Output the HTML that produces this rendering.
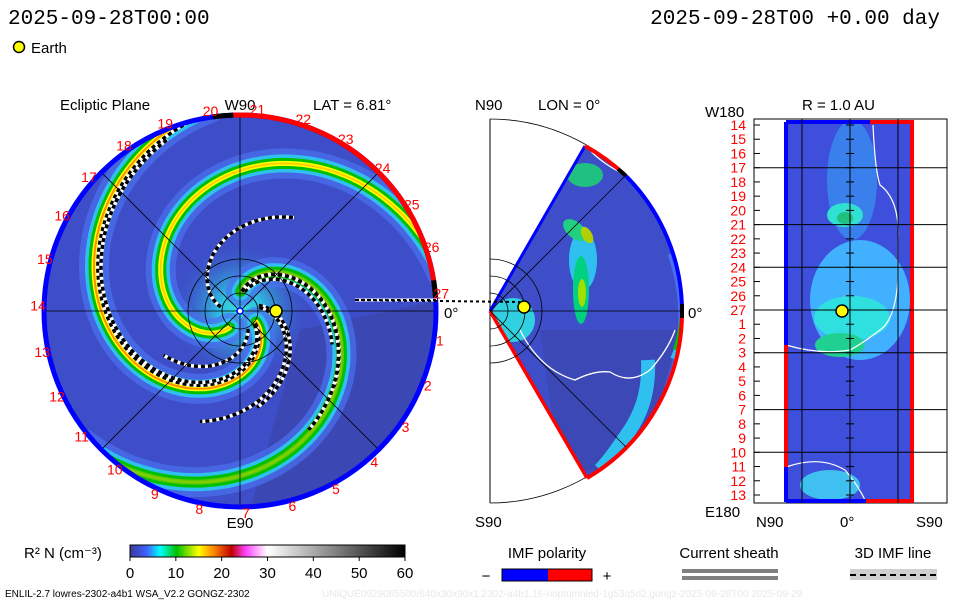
<!DOCTYPE html>
<html><head><meta charset="utf-8"><style>
html,body{margin:0;padding:0;background:#fff;width:960px;height:600px;overflow:hidden}
svg text{font-family:"Liberation Sans",sans-serif}
</style></head><body>
<svg id="chart" width="960" height="600" viewBox="0 0 960 600" xmlns="http://www.w3.org/2000/svg">
<defs>
<linearGradient id="cbar" x1="0" x2="1" y1="0" y2="0">
<stop offset="0" stop-color="#3a3a9a"/><stop offset="0.06" stop-color="#4060ff"/><stop offset="0.11" stop-color="#00ffff"/><stop offset="0.17" stop-color="#00c000"/><stop offset="0.25" stop-color="#ffff00"/><stop offset="0.3" stop-color="#ff9000"/><stop offset="0.37" stop-color="#c00000"/><stop offset="0.42" stop-color="#ff40ff"/><stop offset="0.48" stop-color="#ffd0ff"/><stop offset="0.5" stop-color="#ffffff"/><stop offset="1" stop-color="#000000"/>
</linearGradient>
<clipPath id="discClip"><circle cx="240" cy="311" r="196"/></clipPath>
<clipPath id="wedgeClip"><path d="M490,311 L585,146 A192,192 0 0 1 587,478 Z"/></clipPath>
<radialGradient id="core" cx="0.5" cy="0.5" r="0.5"><stop offset="0" stop-color="#30e0e0"/><stop offset="0.3" stop-color="#30c0e0"/><stop offset="1" stop-color="#3d4ec8" stop-opacity="0"/></radialGradient>
</defs>

<text x="8" y="24" font-size="21" style="font-family:'Liberation Mono',monospace">2025-09-28T00:00</text>
<text x="940" y="24" font-size="21" text-anchor="end" style="font-family:'Liberation Mono',monospace">2025-09-28T00 +0.00 day</text>
<g>
<circle cx="19" cy="47" r="5.5" fill="#ffff00" stroke="#000" stroke-width="1.5"/>
<text x="31" y="53" font-size="15">Earth</text>
</g>

<!-- Left panel -->
<g id="ecliptic">
<text x="60" y="110" font-size="15">Ecliptic Plane</text>
<text x="240" y="110" font-size="15" text-anchor="middle">W90</text>
<text x="313" y="110" font-size="15">LAT = 6.81°</text>
<text x="240" y="528" font-size="15" text-anchor="middle">E90</text>
<text x="444" y="318" font-size="15">0°</text>
<circle cx="240" cy="311" r="196" fill="#3d4ec8"/>
<g clip-path="url(#discClip)" id="discContent">
<path d="M300,330 L440,300 L440,510 L250,510 Z" fill="#3a44a8" opacity="0.7"/>
<circle cx="240" cy="311" r="70" fill="url(#core)"/>
</g>
</g>

<!-- Middle panel -->
<g id="meridional">
<text x="475" y="110" font-size="15">N90</text>
<text x="538" y="110" font-size="15">LON = 0°</text>
<text x="475" y="527" font-size="15">S90</text>
<text x="688" y="318" font-size="15">0°</text>
<path d="M490,119 L490,503" stroke="#000" stroke-width="1"/>
<path d="M490,119 A192,192 0 0 1 490,503" stroke="#000" stroke-width="0.8" fill="none"/>
<path d="M490,311 L585,146 A192,192 0 0 1 587,478 Z" fill="#3d4ec8"/>
<g clip-path="url(#wedgeClip)" id="wedgeContent">
<path d="M540,330 L680,330 L640,470 L560,470Z" fill="#3a44a8" opacity="0.6"/>
<path d="M490,311 m188,-60 A195,195 0 0 1 675,390" stroke="#4a70f0" stroke-width="22" fill="none"/>
<path d="M490,311 m175,-125 A190,190 0 0 1 676,360" stroke="#30c0f0" stroke-width="12" fill="none"/>
<path d="M490,311 m180,-90 A190,190 0 0 1 676,350" stroke="#00c000" stroke-width="6" fill="none"/>
<ellipse cx="583" cy="260" rx="14" ry="30" fill="#30c0f0"/>
<ellipse cx="581" cy="290" rx="8" ry="34" fill="#00d080"/>
<ellipse cx="582" cy="293" rx="4" ry="14" fill="#a0e000"/>
<ellipse cx="575" cy="230" rx="14" ry="8" fill="#20d080" transform="rotate(40 575 230)"/>
<ellipse cx="587" cy="235" rx="5" ry="9" fill="#b0d000" transform="rotate(-30 587 235)"/>
<ellipse cx="585" cy="175" rx="18" ry="12" fill="#20c080"/>
<circle cx="513" cy="320" r="22" fill="#30d0e0"/>
<path d="M648,360 Q650,400 630,430 Q610,460 600,470" stroke="#30c0f0" stroke-width="14" fill="none"/>
<path d="M520,330 Q540,370 575,380 Q595,370 610,372 Q630,385 650,370 Q668,350 675,330" stroke="#fff" stroke-width="1.3" fill="none"/>
<path d="M590,150 Q600,162 625,175" stroke="#fff" stroke-width="1.3" fill="none"/>
</g>
<path d="M490,311 L585,146" stroke="#0000ff" stroke-width="3"/>
<path d="M490,311 L587,478" stroke="#ff0000" stroke-width="3.5"/>
<path d="M585,146 A192,192 0 0 1 625,175" stroke="#ff0000" stroke-width="4" fill="none"/>
<path d="M618,169 A192,192 0 0 1 626,176" stroke="#000" stroke-width="4" fill="none"/>
<path d="M626,176 A192,192 0 0 1 682,311" stroke="#0000ff" stroke-width="4" fill="none"/>
<path d="M682,311 A192,192 0 0 1 587,478" stroke="#ff0000" stroke-width="4" fill="none"/>
<rect x="680" y="304" width="4" height="14" fill="#000"/>
<g stroke="#000" stroke-width="0.8" fill="none">
<path d="M490,311 L682,311"/><path d="M490,311 L626,175"/><path d="M490,311 L626,447"/>
<path d="M490,293 A18,18 0 0 1 490,329"/><path d="M490,276 A35,35 0 0 1 490,346"/><path d="M490,259 A52,52 0 0 1 490,363"/>
</g>
</g>

<!-- connector -->
<path d="M356,300 L520,302" stroke="#000" stroke-width="2" stroke-dasharray="3,3"/>
<circle cx="524" cy="307" r="6" fill="#ffff00" stroke="#000" stroke-width="1.5"/>

<!-- Right panel -->
<g id="rpanel">
<text x="705" y="117" font-size="15">W180</text>
<text x="802" y="110" font-size="15">R = 1.0 AU</text>
<text x="705" y="517" font-size="15">E180</text>
<text x="756" y="527" font-size="15">N90</text>
<text x="840" y="527" font-size="15">0°</text>
<text x="916" y="527" font-size="15">S90</text>
<rect x="754" y="119" width="193" height="384" fill="#fff" stroke="#000" stroke-width="1"/>
<rect x="786" y="122" width="128" height="380" fill="#3d4ec8"/>
<g id="rcontent">
<rect x="790" y="122" width="122" height="380" fill="#4050e8" opacity="0.6"/>
<ellipse cx="852" cy="180" rx="25" ry="60" fill="#3a8cf0" opacity="0.8"/>
<ellipse cx="860" cy="300" rx="50" ry="60" fill="#40b0ff"/>
<ellipse cx="852" cy="318" rx="38" ry="22" fill="#30e0e0"/>
<ellipse cx="840" cy="345" rx="25" ry="12" fill="#20d090"/>
<ellipse cx="845" cy="215" rx="18" ry="12" fill="#30e0d0"/>
<ellipse cx="845" cy="218" rx="8" ry="6" fill="#20c080"/>
<ellipse cx="830" cy="485" rx="30" ry="15" fill="#40c0f0"/>
<path d="M873,125 Q875,170 880,185 Q900,200 898,240 L898,280 Q895,320 880,330 Q860,345 850,350 Q820,355 786,345" stroke="#fff" stroke-width="1.2" fill="none"/>
<path d="M786,467 Q820,455 845,470 Q858,485 866,502" stroke="#fff" stroke-width="1.2" fill="none"/>
</g>
<path d="M786,122 L914,122" stroke="#0000ff" stroke-width="4"/>
<path d="M870,122 L914,122" stroke="#ff0000" stroke-width="4"/>
<path d="M786,122 L786,345" stroke="#0000ff" stroke-width="4"/>
<path d="M786,345 L786,467" stroke="#ff0000" stroke-width="4"/>
<path d="M786,467 L786,502" stroke="#0000ff" stroke-width="4"/>
<path d="M912,122 L912,502" stroke="#ff0000" stroke-width="4"/>
<path d="M786,501 L866,501" stroke="#0000ff" stroke-width="4"/>
<path d="M866,501 L914,501" stroke="#ff0000" stroke-width="4"/>
<g id="rgrid" stroke="#000" stroke-width="1"></g>
<circle cx="842" cy="311" r="6" fill="#ffff00" stroke="#000" stroke-width="1.5"/>
</g>

<!-- colorbar -->
<g id="colorbar">
<text x="24" y="558" font-size="15">R² N (cm⁻³)</text>
<rect x="130" y="545" width="275" height="12" fill="url(#cbar)" stroke="#000" stroke-width="1"/>
</g>

<g>
<text x="547" y="558" font-size="15" text-anchor="middle">IMF polarity</text>
<text x="486" y="581" font-size="15" text-anchor="middle">−</text>
<rect x="502" y="569" width="46" height="12" fill="#0000ff"/>
<rect x="548" y="569" width="44" height="12" fill="#ff0000"/>
<rect x="502" y="569" width="90" height="12" fill="none" stroke="#000"/>
<text x="607" y="581" font-size="15" text-anchor="middle">+</text>
</g>
<g>
<text x="729" y="558" font-size="15" text-anchor="middle">Current sheath</text>
<rect x="682" y="569" width="96" height="4" fill="#808080"/>
<rect x="682" y="576" width="96" height="4" fill="#808080"/>
</g>
<g>
<text x="893" y="558" font-size="15" text-anchor="middle">3D IMF line</text>
<rect x="850" y="569" width="87" height="11" fill="#d0d0d0"/>
<path d="M850,575 L937,575" stroke="#000" stroke-width="2" stroke-dasharray="6,4"/>
</g>
<text x="5" y="597" font-size="10">ENLIL-2.7 lowres-2302-a4b1 WSA_V2.2 GONGZ-2302</text>
<text x="322" y="597" font-size="10" fill="#e8e8e8">UNIQUE0929085500/640x30x90x1.2302-a4b1.16-noptumnled-1g53q5d2.gongz-2025-09-28T00  2025-09-29</text>
</svg>
<script>
// colorbar ticks
const cbarTicks=[0,10,20,30,40,50,60];
// spiral arms: outer-end angle (deg, screen), band colors (outer halo -> core)
const armAngles=[262,350,140];
const armColors=[["#4a70f0","#30c0f0","#00c000","#ffff00","#ff9000"],["#4a70f0","#30c0f0","#00c000","#ffff00","#ffd000"],["#4a70f0","#30c0f0","#00c000","#60c800","#80d000"]];
// dashed IMF lines: outer angle and outer radius fraction
const imfAngles=[255,247,300,20,40,60,80,110,150];
const imfRadii=[1.0,0.95,0.55,0.5,0.62,0.7,0.5,0.6,0.45];
// longitude labels (sector numbering) around disc
const lonLabels=[1,2,3,4,5,6,7,8,9,10,11,12,13,14,15,16,17,18,19,20,21,22,23,24,25,26,27];
// right-panel row labels
const rowLabels=[14,15,16,17,18,19,20,21,22,23,24,25,26,27,1,2,3,4,5,6,7,8,9,10,11,12,13];

const NS="http://www.w3.org/2000/svg";
function mk(tag,attrs,parent){const e=document.createElementNS(NS,tag);for(const k in attrs)e.setAttribute(k,attrs[k]);parent.appendChild(e);return e;}
const CX=240,CY=311,R=196,K=240;
function spiral(a0,rmax,off){let d="";for(let i=0;i<=80;i++){const f=0.1+(rmax-0.1)*i/80;const th=(a0-K*(rmax-f)+off)*Math.PI/180;const x=CX+f*R*Math.cos(th),y=CY+f*R*Math.sin(th);d+=(i?"L":"M")+x.toFixed(1)+","+y.toFixed(1);}return d;}
const disc=document.getElementById("discContent");
armAngles.forEach((a,i)=>{
  const cols=armColors[i];const widths=[30,18,11,5,2];
  cols.forEach((c,j)=>{const p=mk("path",{d:spiral(a,1.05,0),stroke:c,"stroke-width":widths[j],fill:"none","stroke-linecap":"round",opacity:j==0?0.7:1},disc);
  
  });
});
imfAngles.forEach((a,i)=>{
  const d=spiral(a,imfRadii[i],0);
  mk("path",{d:d,stroke:"#fff","stroke-width":3.5,fill:"none"},disc);
  const p=mk("path",{d:d,stroke:"#000","stroke-width":3.5,"stroke-dasharray":"4,3",fill:"none"},disc);
  
  
});
const eg=document.getElementById("ecliptic");
[0,45,90,135].forEach(a=>{const t=a*Math.PI/180;mk("line",{x1:CX-R*Math.cos(t),y1:CY-R*Math.sin(t),x2:CX+R*Math.cos(t),y2:CY+R*Math.sin(t),stroke:"#000","stroke-width":0.8},eg);});
[18,35,52].forEach(r=>mk("circle",{cx:CX,cy:CY,r:r,fill:"none",stroke:"#000","stroke-width":0.8},eg));
mk("circle",{cx:CX,cy:CY,r:3,fill:"#fff",stroke:"#0000ff","stroke-width":1.5},eg);
mk("circle",{cx:CX,cy:CY,r:R,fill:"none",stroke:"#0000ff","stroke-width":5},eg);
function arc(a1,a2,col,w){const t1=a1*Math.PI/180,t2=a2*Math.PI/180;mk("path",{d:`M${CX+R*Math.cos(t1)},${CY+R*Math.sin(t1)} A${R},${R} 0 0 1 ${CX+R*Math.cos(t2)},${CY+R*Math.sin(t2)}`,stroke:col,"stroke-width":w,fill:"none"},eg);}
arc(-92,-5,"#ff0000",5);arc(-98,-92,"#000",5);arc(-9,-4,"#000",5);
mk("path",{d:"M355,300 L437,300",stroke:"#fff","stroke-width":3},eg);
mk("path",{d:"M355,300 L437,300",stroke:"#000","stroke-width":2,"stroke-dasharray":"3,3"},eg);
const earth=mk("circle",{cx:276,cy:311,r:6,fill:"#ffff00",stroke:"#000","stroke-width":1.5},eg);


lonLabels.forEach((n)=>{const t=(n===27?-5:(-5+13.33*n))*Math.PI/180;
  const el=mk("text",{x:CX+(R+6)*Math.cos(t),y:CY+(R+6)*Math.sin(t)+5,"font-size":14,fill:"#ff0000","text-anchor":"middle"},eg);el.textContent=n;
  
  });
const rg=document.getElementById("rgrid");const rp=document.getElementById("rpanel");
const y0=125,y1=495,dy=(y1-y0)/(rowLabels.length-1);
[802,850,898].forEach(x=>mk("line",{x1:x,y1:119,x2:x,y2:503},rg));
[3,7,10,13,16,20,23].forEach(i=>{const y=y0+i*dy+(i>13?0:0);mk("line",{x1:754,y1:y,x2:947,y2:y},rg);});
rowLabels.forEach((n,i)=>{const y=y0+i*dy;mk("line",{x1:754,y1:y,x2:760,y2:y},rg);mk("line",{x1:846,y1:y,x2:854,y2:y},rg);
  const el=mk("text",{x:746,y:y+5,"font-size":14,fill:"#ff0000","text-anchor":"end"},rp);el.textContent=n;
  
  });
const cb=document.getElementById("colorbar");
cbarTicks.forEach(v=>{const x=130+275*v/60;mk("line",{x1:x,y1:557,x2:x,y2:561,stroke:"#000"},cb);
  const el=mk("text",{x:x,y:578,"font-size":15,"text-anchor":"middle"},cb);el.textContent=v;
  
  });
</script>
</body></html>
